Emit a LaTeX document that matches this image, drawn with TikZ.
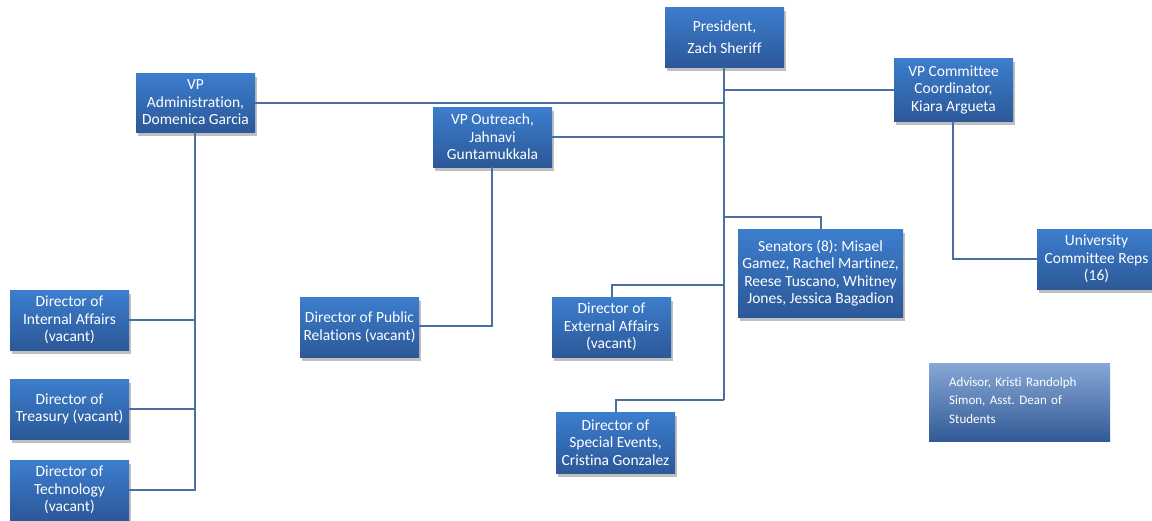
\documentclass[tikz,border=0pt]{standalone}
\usepackage{fontspec}
\setmainfont{Carlito}[Ligatures={NoCommon}]
\usetikzlibrary{shadows}
\frenchspacing
\definecolor{boxtop}{RGB}{60,126,206}
\definecolor{boxbot}{RGB}{44,88,152}
\definecolor{advtop}{RGB}{135,168,214}
\definecolor{advbot}{RGB}{50,90,150}
\definecolor{linec}{RGB}{74,111,162}
\tikzset{
  orgbox/.style={rectangle, top color=boxtop, bottom color=boxbot, draw=none,
    text=white, align=center, inner sep=2pt,
    font=\fontsize{15.5}{17.5}\selectfont,
    drop shadow={shadow xshift=2pt, shadow yshift=-4pt, opacity=0.25, fill=black}},
  advbox/.style={rectangle, top color=advtop, bottom color=advbot, draw=none},
  advlabel/.style={text=white, align=left, inner sep=0pt,
    font=\fontsize{13}{18.5}\selectfont},
  conn/.style={draw=linec, line width=2pt}
}
\begin{document}
\begin{tikzpicture}[x=1pt,y=-1pt]
\useasboundingbox (0,0) rectangle (1152,520);
\fill[white] (0,0) rectangle (1152,520);
% nodes
\node[orgbox, minimum width=119pt, minimum height=60pt] (pres) at (724.5,37) {President,\\[5pt]Zach Sheriff};
\node[orgbox, minimum width=119pt, minimum height=59pt] (vpa) at (195.5,102.5) {VP\\Administration,\\Domenica Garcia};
\node[orgbox, minimum width=119pt, minimum height=60pt] (vpo) at (492.5,137) {VP Outreach,\\Jahnavi\\Guntamukkala};
\node[orgbox, minimum width=119pt, minimum height=63pt] (vpc) at (953.5,89.5) {VP Committee\\Coordinator,\\Kiara Argueta};
\node[orgbox, minimum width=165pt, minimum height=88pt] (sen) at (820.5,273) {Senators (8): Misael\\Gamez, Rachel Martinez,\\Reese Tuscano, Whitney\\Jones, Jessica Bagadion};
\node[orgbox, minimum width=119pt, minimum height=60pt] (ucr) at (1096.5,259) {University\\Committee Reps\\(16)};
\node[orgbox, minimum width=119pt, minimum height=60pt] (dia) at (69.5,320) {Director of\\Internal Affairs\\(vacant)};
\node[orgbox, minimum width=119pt, minimum height=60pt] (dtr) at (69.5,409) {Director of\\Treasury (vacant)};
\node[orgbox, minimum width=119pt, minimum height=60pt] (dte) at (69.5,490) {Director of\\Technology\\(vacant)};
\node[orgbox, minimum width=119pt, minimum height=60pt] (dpr) at (359.5,327) {Director of Public\\Relations (vacant)};
\node[orgbox, minimum width=119pt, minimum height=60pt] (dea) at (611.5,327) {Director of\\External Affairs\\(vacant)};
\node[orgbox, minimum width=119pt, minimum height=61pt] (dse) at (615.5,442.5) {Director of\\Special Events,\\Cristina Gonzalez};
\node[advbox, minimum width=181pt, minimum height=78pt] (adv) at (1019.5,402) {};
\node[advlabel, anchor=north west, text width=160pt] (advtext) at (949,377) {Advisor, Kristi Randolph\\Simon, Asst. Dean of\\Students};
% connector helper coordinates
\coordinate (trunk) at (724,400);
\coordinate (senj) at (724,217);
\coordinate (eaj) at (724,285);
\coordinate (admj) at (195,490);
\coordinate (outj) at (492,326);
\coordinate (comj) at (953,259);
% connectors
\draw[conn] (pres.south -| trunk) -- (trunk);
\draw[conn] (vpa.east) -- (vpa.east -| trunk);
\draw[conn] (vpo.east) -- (vpo.east -| trunk);
\draw[conn] (vpc.west) -- (vpc.west -| trunk);
\draw[conn] (senj) -| (sen.north);
\draw[conn] (eaj) -| (dea.north);
\draw[conn] (trunk) -| (dse.north);
\draw[conn] (vpa.south -| admj) -- (admj) -- (dte.east |- admj);
\draw[conn] (dia.east) -- (dia.east -| admj);
\draw[conn] (dtr.east) -- (dtr.east -| admj);
\draw[conn] (vpo.south -| outj) -- (outj) -- (dpr.east |- outj);
\draw[conn] (vpc.south -| comj) -- (comj) -- (ucr.west |- comj);
\end{tikzpicture}
\end{document}
